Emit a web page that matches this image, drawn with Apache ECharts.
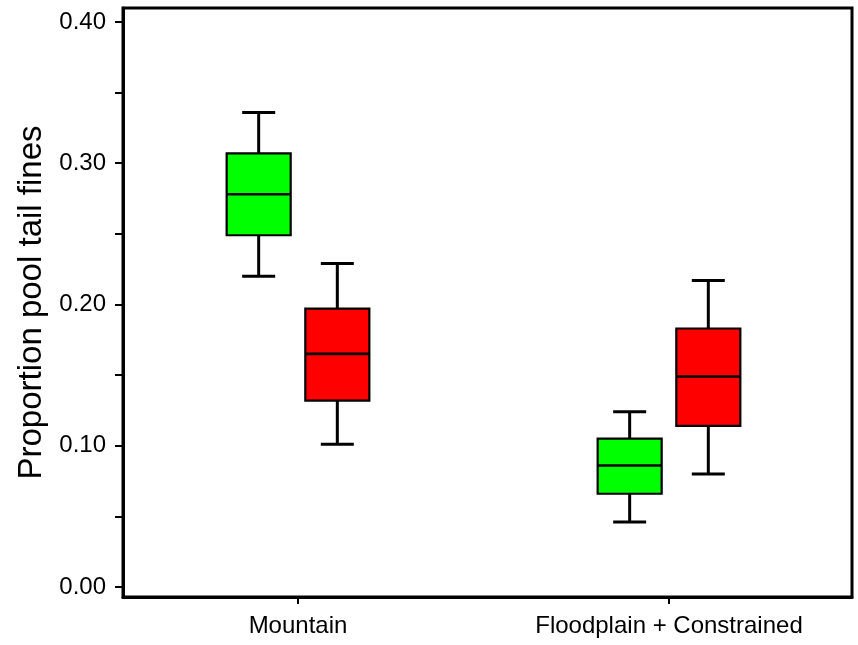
<!DOCTYPE html>
<html>
<head>
<meta charset="utf-8">
<script src="https://cdn.jsdelivr.net/npm/echarts@6/dist/echarts.min.js"></script>
<style>html,body{margin:0;padding:0;background:#fff}#c{width:858px;height:645px}</style>
</head>
<body>
<div id="c"></div>
<script>
// ---- data ----
var categories = ['Mountain', 'Floodplain + Constrained'];
// [low whisker, Q1, median, Q3, high whisker] per category
var greenSeries = [
  [0.220, 0.249, 0.278, 0.307, 0.336],
  [0.046, 0.066, 0.086, 0.105, 0.124]
];
var redSeries = [
  [0.101, 0.132, 0.165, 0.197, 0.229],
  [0.080, 0.114, 0.149, 0.183, 0.217]
];
var yTickValues = [0, 0.05, 0.1, 0.15, 0.2, 0.25, 0.3, 0.35, 0.4];
var yLabelValues = [0, 0.1, 0.2, 0.3, 0.4];
var yTitle = 'Proportion pool tail fines';

var FONT = '"Liberation Sans", Arial, sans-serif';
var OFFSET = 0.106;   // group offset in category units
var HALF_BOX = 0.0863;
var HALF_CAP = 0.0445;

function makeData(vals) {
  return vals.map(function (v, i) { return [i + 1].concat(v); });
}

function boxRenderer(offset, color) {
  return function (params, api) {
    var x = api.value(0) + offset;
    var lo = api.value(1), q1 = api.value(2), med = api.value(3), q3 = api.value(4), hi = api.value(5);
    var pLo = api.coord([x, lo]), pQ1 = api.coord([x, q1]), pMed = api.coord([x, med]);
    var pQ3 = api.coord([x, q3]), pHi = api.coord([x, hi]);
    var left = api.coord([x - HALF_BOX, q3])[0], right = api.coord([x + HALF_BOX, q3])[0];
    var cl = api.coord([x - HALF_CAP, hi])[0], cr = api.coord([x + HALF_CAP, hi])[0];
    var black = {stroke: '#000', lineWidth: 3};
    return {
      type: 'group',
      children: [
        {type: 'line', shape: {x1: pHi[0], y1: pHi[1], x2: pQ3[0], y2: pQ3[1]}, style: black},
        {type: 'line', shape: {x1: pQ1[0], y1: pQ1[1], x2: pLo[0], y2: pLo[1]}, style: black},
        {type: 'line', shape: {x1: cl, y1: pHi[1], x2: cr, y2: pHi[1]}, style: black},
        {type: 'line', shape: {x1: cl, y1: pLo[1], x2: cr, y2: pLo[1]}, style: black},
        {type: 'rect', shape: {x: left, y: pQ3[1], width: right - left, height: pQ1[1] - pQ3[1]},
          style: {fill: color, stroke: '#000', lineWidth: 2.2}},
        {type: 'line', shape: {x1: left, y1: pMed[1], x2: right, y2: pMed[1]}, style: {stroke: '#000', lineWidth: 2.6}}
      ]
    };
  };
}

var chart = echarts.init(document.getElementById('c'), null, {renderer: 'canvas'});
chart.setOption({
  backgroundColor: '#fff',
  animation: false,
  grid: {left: 123, right: 6, top: 8, bottom: 48, show: true, borderColor: '#000', borderWidth: 3, backgroundColor: 'transparent'},
  xAxis: {
    type: 'value', min: 0.5283, max: 2.4933,
    axisLine: {show: true, onZero: false, lineStyle: {color: '#000', width: 3}},
    axisTick: {show: true, length: 7, lineStyle: {color: '#000', width: 2}, customValues: [1, 2]},
    axisLabel: {color: '#000', fontSize: 24, fontFamily: FONT, margin: 17, customValues: [1, 2],
      formatter: function (v) { return categories[Math.round(v) - 1] || ''; }},
    splitLine: {show: false}
  },
  yAxis: {
    type: 'value', min: -0.0071, max: 0.4099,
    name: yTitle, nameLocation: 'middle', nameGap: 72,
    nameTextStyle: {color: '#000', fontSize: 33, fontFamily: FONT},
    axisLine: {show: true, onZero: false, lineStyle: {color: '#000', width: 3}},
    axisTick: {show: true, length: 8, lineStyle: {color: '#000', width: 2}, customValues: yTickValues},
    axisLabel: {color: '#000', fontSize: 24, fontFamily: FONT, margin: 17, customValues: yLabelValues,
      formatter: function (v) { return v.toFixed(2); }},
    splitLine: {show: false}
  },
  series: [
    {type: 'custom', name: 'green', renderItem: boxRenderer(-OFFSET, '#00ff00'), data: makeData(greenSeries),
      encode: {x: 0, y: [1, 2, 3, 4, 5]}, clip: false},
    {type: 'custom', name: 'red', renderItem: boxRenderer(OFFSET, '#ff0000'), data: makeData(redSeries),
      encode: {x: 0, y: [1, 2, 3, 4, 5]}, clip: false}
  ]
});
</script>
</body>
</html>
